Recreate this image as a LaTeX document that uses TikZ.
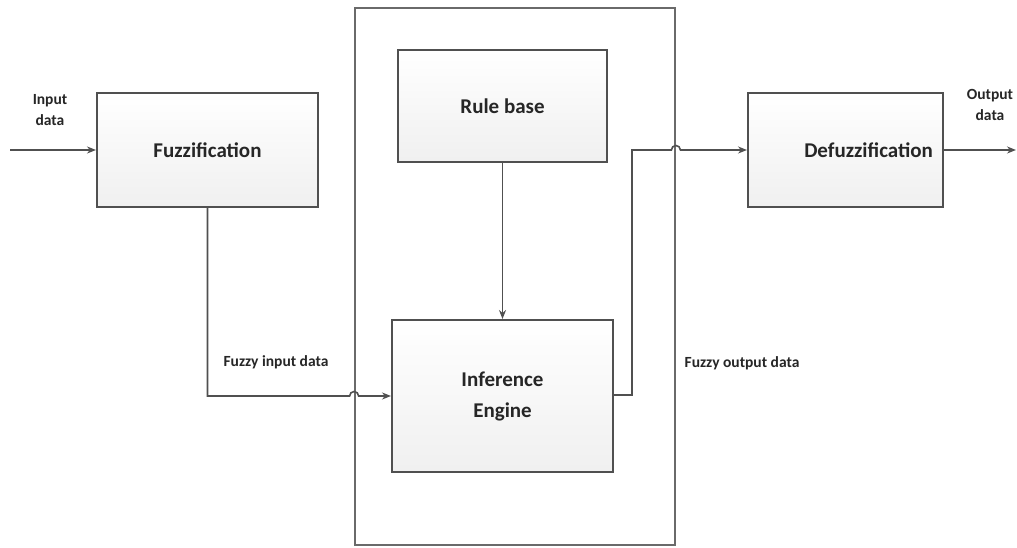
\documentclass[tikz,border=0pt]{standalone}
\usepackage{fontspec}
\setmainfont{Carlito}
\usetikzlibrary{arrows.meta}
\definecolor{edge}{HTML}{505050}
\definecolor{frame}{HTML}{6A6A6A}
\definecolor{ink}{HTML}{262626}
\tikzset{
  block/.style={draw=edge, line width=2pt, rectangle, top color=white, bottom color=black!6,
    text=ink, font=\fontsize{21}{31}\selectfont\bfseries, align=center},
  flow/.style={draw=edge, line width=1.6pt, -{Stealth[length=9pt,width=7pt]}},
  tag/.style={text=ink, font=\fontsize{15.5}{21}\selectfont\bfseries, align=center},
}
\begin{document}
\begin{tikzpicture}[x=1pt,y=1pt]
\useasboundingbox (0,0) rectangle (1017,547);
% knowledge-base frame around rule base and inference engine
\node[draw=frame, line width=1.8pt, minimum width=320pt, minimum height=537pt, inner sep=0pt]
  (kb) at (515,270.5) {};
% processing blocks
\node[block, minimum width=221pt, minimum height=114pt] (fuzz) at (207.5,397) {Fuzzification};
\node[block, minimum width=209pt, minimum height=112pt] (rule) at (502.5,441) {Rule base};
\node[block, minimum width=221pt, minimum height=152pt] (infer) at (502.5,151) {Inference\\Engine};
\node[block, minimum width=195pt, minimum height=114pt, text width=175pt, align=right] (defuzz) at (845.5,397) {Defuzzification};
% free ends and bends
\coordinate (src) at (10,397);
\coordinate (sink) at (1016,397);
\coordinate (fbend) at (fuzz.south |- infer.west);
\coordinate (obend) at (632,152);
\coordinate (otop) at (632,397);
% labels
\node[tag] (inlbl) at (50,437) {Input\\data};
\node[tag] (outlbl) at (990,442) {Output\\data};
\node[tag] (fin) at (276,185) {Fuzzy input data};
\node[tag] (fout) at (742,184) {Fuzzy output data};
% connectors
\draw[flow] (src) -- (fuzz.west);
\draw[flow] (fuzz.south) -- (fbend) -- ([xshift=-4.5pt]kb.west |- fbend)
  arc[start angle=180, end angle=0, radius=4.5pt] -- (infer.west);
\draw[flow] (rule.south) -- (infer.north);
\draw[flow] (infer.east |- obend) -- (obend) -- (otop) -- ([xshift=-4.5pt]kb.east |- otop)
  arc[start angle=180, end angle=0, radius=4.5pt] -- (defuzz.west |- otop);
\draw[flow] (defuzz.east) -- (sink);
\end{tikzpicture}
\end{document}
